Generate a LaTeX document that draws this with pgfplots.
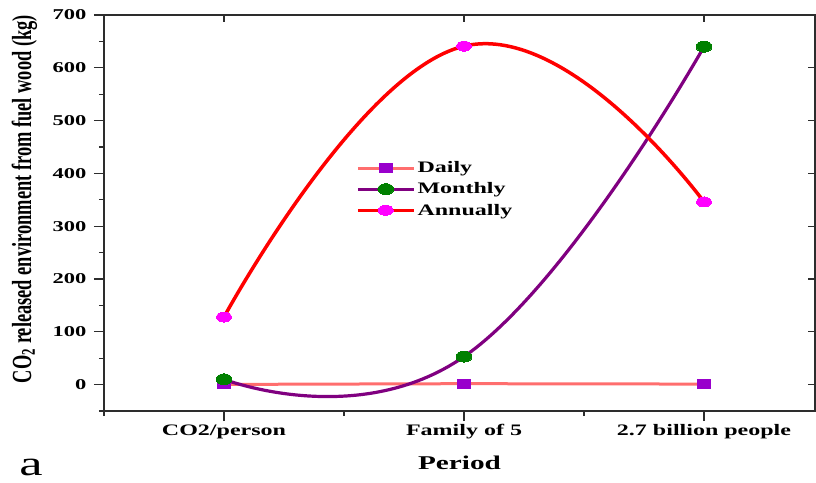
\documentclass[border=0pt]{standalone}
\usepackage{pgfplots}
\pgfplotsset{compat=1.18}
\usepackage{fontspec}
\usepackage{graphicx}
\setmainfont{Liberation Serif}[FakeStretch=1.5]
\newfontfamily\plainserif{Liberation Serif}
\definecolor{dailyline}{RGB}{255,110,110}
\definecolor{dailymark}{RGB}{153,0,204}
\definecolor{monthline}{RGB}{128,0,128}
\definecolor{monthmark}{RGB}{0,128,0}
\definecolor{annline}{RGB}{255,0,0}
\definecolor{annmark}{RGB}{255,0,255}
\definecolor{axgray}{RGB}{45,45,45}
\begin{document}
\begin{tikzpicture}
\begin{axis}[
  scale only axis, width=711pt, height=396pt,
  xmin=-0.5, xmax=2.4625, ymin=-50, ymax=700,
  axis line style={axgray, line width=1.3pt},
  tick style={axgray, line width=1.2pt},
  tick pos=left, tick align=outside,
  major tick length=10pt, minor tick length=5pt,
  xtick={0,1,2}, xticklabels={CO2/person, Family of 5, 2.7 billion people},
  minor xtick={-0.5,0.5,1.5},
  ytick={0,100,...,700}, minor ytick={-50,50,150,...,650},
  /pgf/number format/assume math mode=true,
  xticklabel style={font=\fontsize{16}{19}\selectfont\bfseries},
  yticklabel style={font=\fontsize{15}{18}\selectfont\bfseries, xshift=-4pt},
  xlabel={Period},
  xlabel style={font=\fontsize{19.5}{23}\selectfont\bfseries, at={(axis description cs:0.5,-0.130)}, anchor=center},
  ylabel={\scalebox{1}[1.5]{\plainserif\bfseries CO\textsubscript{2} released environment from fuel wood (kg)}},
  ylabel style={font=\fontsize{18.4}{21}\selectfont, at={(axis description cs:-0.112,0.535)}, anchor=center},
  legend style={draw=none, fill=none, at={(axis description cs:0.350,0.64)}, anchor=north west,
    font=\fontsize{16}{18}\selectfont\bfseries, row sep=4.5pt, nodes={inner sep=2pt}},
  legend cell align=left,
  legend image code/.code={\draw[mark repeat=2, mark phase=2, #1] plot coordinates {(0pt,0pt) (28pt,0pt) (56pt,0pt)};},
]
\coordinate (SW) at (rel axis cs:0,0);
\coordinate (NE) at (rel axis cs:1,1);
\addplot[color=dailyline, line width=3pt, mark=square*, mark size=4.5pt,
  mark options={fill=dailymark, draw=dailymark, line width=0pt, xscale=1.45}]
  coordinates {(0,0.35) (1,1.75) (2,1)};
\addlegendentry{Daily}
\addplot[color=monthline, line width=3.2pt, smooth, tension=0.8, mark=*, mark size=5.5pt,
  mark options={fill=monthmark, draw=monthmark, line width=0pt, xscale=1.45}]
  coordinates {(0,10) (1,53) (2,640)};
\addlegendentry{Monthly}
\addplot[color=annline, line width=3.5pt, smooth, tension=0.8, mark=*, mark size=5pt,
  mark options={fill=annmark, draw=annmark, line width=0pt, xscale=1.5}]
  coordinates {(0,128) (1,641) (2,346)};
\addlegendentry{Annually}
\end{axis}
\begin{axis}[
  scale only axis, width=711pt, height=396pt,
  xmin=-0.5, xmax=2.4625, ymin=-50, ymax=700,
  axis line style={draw=none},
  tick style={axgray, line width=1.2pt},
  tick pos=right, tick align=inside, major tick length=7pt,
  xtick={0,1,2}, ytick={0,100,...,700},
  xticklabels={}, yticklabels={},
]
\end{axis}
\node[font=\fontsize{35}{40}\selectfont, anchor=base] at ([shift={(-73pt,-64pt)}]SW) {a};
\pgfresetboundingbox
\path ([shift={(-104pt,-71pt)}]SW) rectangle ([shift={(1pt,15pt)}]NE);
\end{tikzpicture}
\end{document}
